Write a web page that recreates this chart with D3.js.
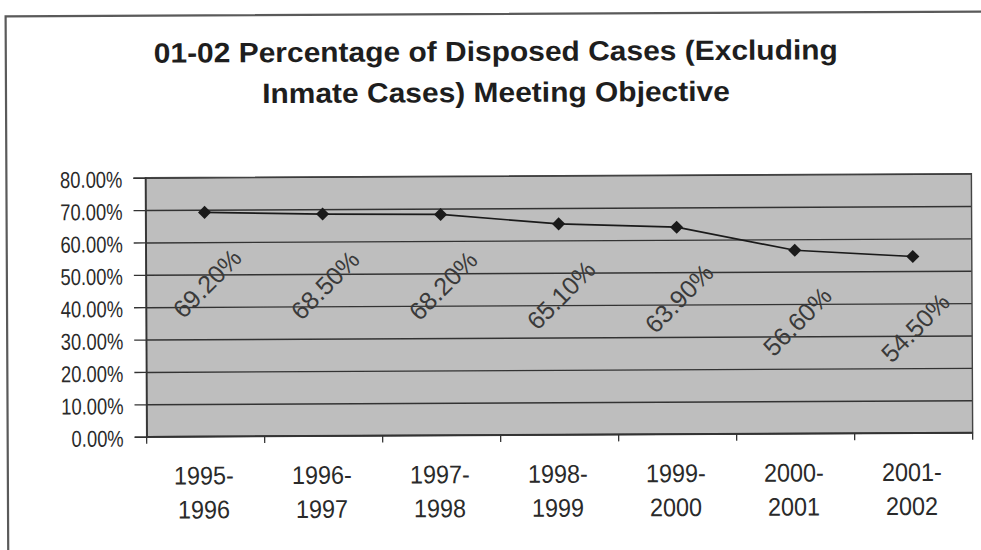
<!DOCTYPE html>
<html>
<head>
<meta charset="utf-8">
<script src="https://cdn.jsdelivr.net/npm/d3@7"></script>
<style>
  html, body { margin: 0; padding: 0; background: #fff; }
  svg { display: block; }
  text { font-family: "Liberation Sans", Arial, sans-serif; }
</style>
</head>
<body>
<svg id="chart" width="981" height="550"></svg>
<script>
// Fiscal-year periods and share of disposed cases meeting objective (%)
const categories = ["1995-1996", "1996-1997", "1997-1998", "1998-1999", "1999-2000", "2000-2001", "2001-2002"];
const values = [69.2, 68.5, 68.2, 65.1, 63.9, 56.6, 54.5];
const yTicks = [0, 10, 20, 30, 40, 50, 60, 70, 80];
const titleLines = ["01-02 Percentage of Disposed Cases (Excluding", "Inmate Cases) Meeting Objective"];

const svg = d3.select("#chart");
const root = svg.append("g").attr("transform", "rotate(-0.28 490 300)");

// outer chart frame
root.append("rect")
  .attr("x", 7).attr("y", 14).attr("width", 1010).attr("height", 600)
  .attr("fill", "#fff").attr("stroke", "#5a5a5a").attr("stroke-width", 2.2);

const plot = { left: 146, right: 972, top: 176, bottom: 435 };

const x = d3.scaleBand().domain(categories).range([plot.left, plot.right]);
const y = d3.scaleLinear().domain([0, 80]).range([plot.bottom, plot.top]);

// title
const title = root.append("g");
titleLines.forEach((t, i) => {
  title.append("text")
    .attr("transform", `translate(497, ${61 + i * 41}) scale(1.07, 1)`)
    .attr("text-anchor", "middle")
    .attr("font-size", 28)
    .attr("font-weight", "bold")
    .attr("fill", "#1e1e1e")
    .text(t);
});

// plot background
root.append("rect")
  .attr("x", plot.left).attr("y", plot.top)
  .attr("width", plot.right - plot.left).attr("height", plot.bottom - plot.top)
  .attr("fill", "#bebebe");

// horizontal gridlines
root.append("g")
  .attr("transform", `translate(${plot.left},0)`)
  .call(d3.axisLeft(y).tickValues(yTicks).tickSize(-(plot.right - plot.left)).tickFormat(""))
  .call(g => g.select(".domain").remove())
  .call(g => g.selectAll("line").attr("stroke", "#333").attr("stroke-width", 1.4));

// plot border
root.append("rect")
  .attr("x", plot.left).attr("y", plot.top)
  .attr("width", plot.right - plot.left).attr("height", plot.bottom - plot.top)
  .attr("fill", "none").attr("stroke", "#444").attr("stroke-width", 1.4);

// y axis ticks
const yAxis = root.append("g")
  .attr("transform", `translate(${plot.left},0)`)
  .call(d3.axisLeft(y).tickValues(yTicks).tickSize(12).tickFormat(""));
yAxis.select(".domain").attr("stroke", "#333").attr("stroke-width", 1.5);
yAxis.selectAll("line").attr("stroke", "#333").attr("stroke-width", 1.3);

// y tick labels, slightly condensed
yAxis.selectAll(".tick").append("text")
  .attr("transform", "translate(-23, 1) scale(0.8, 1)")
  .attr("text-anchor", "end")
  .attr("dominant-baseline", "central")
  .attr("font-size", 23).attr("fill", "#2a2a2a")
  .attr("font-family", "'Liberation Sans', Arial, sans-serif")
  .text(d => d3.format(".2f")(d) + "%");

// x axis baseline with ticks on category boundaries
const bounds = categories.map(c => x(c)).concat([plot.right]);
const xAxis = root.append("g").attr("transform", `translate(0,${plot.bottom})`);
xAxis.append("line")
  .attr("x1", plot.left).attr("x2", plot.right)
  .attr("stroke", "#333").attr("stroke-width", 1.6);
xAxis.selectAll("line.tick")
  .data(bounds).join("line").attr("class", "tick")
  .attr("x1", d => d).attr("x2", d => d)
  .attr("y1", 0).attr("y2", 7)
  .attr("stroke", "#333").attr("stroke-width", 1.3);

// two-line category labels
categories.forEach(d => {
  const parts = d.split("-");
  const cx = x(d) + x.bandwidth() / 2;
  [parts[0] + "-", parts[1]].forEach((s, k) => {
    xAxis.append("text")
      .attr("transform", `translate(${cx - 2}, ${48 + k * 34}) scale(0.92, 1)`)
      .attr("text-anchor", "middle")
      .attr("font-size", 25.5).attr("fill", "#2a2a2a")
      .text(s);
  });
});

// series line
const pts = categories.map((c, i) => [x(c) + x.bandwidth() / 2, y(values[i])]);
root.append("path")
  .attr("d", d3.line()(pts))
  .attr("fill", "none").attr("stroke", "#1a1a1a").attr("stroke-width", 1.7);

// diamond markers
root.selectAll("path.marker")
  .data(pts).join("path").attr("class", "marker")
  .attr("transform", d => `translate(${d[0]},${d[1]})`)
  .attr("d", d3.symbol(d3.symbolDiamond2, 110)())
  .attr("fill", "#1a1a1a");

// rotated value labels below each point
root.selectAll("text.val")
  .data(values).join("text").attr("class", "val")
  .attr("transform", (d, i) => `translate(${pts[i][0] + 2},${pts[i][1] + 71}) rotate(-45)`)
  .attr("text-anchor", "middle")
  .attr("dominant-baseline", "central")
  .attr("font-size", 25).attr("fill", "#3a3a3a")
  .text(d => d3.format(".2f")(d) + "%");
</script>
</body>
</html>
